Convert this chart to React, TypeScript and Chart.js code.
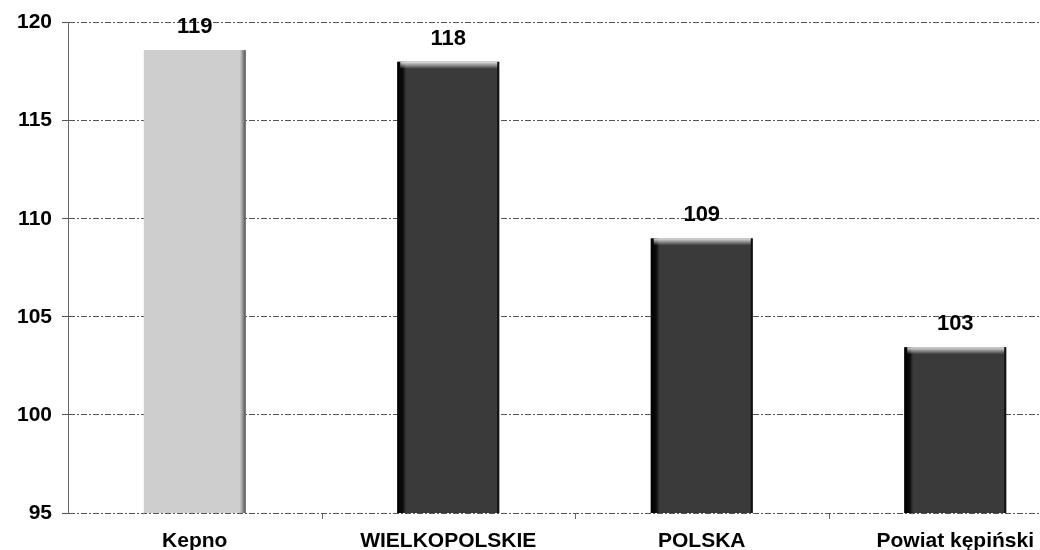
import { useEffect, useRef } from 'react';
import { Chart, registerables } from 'chart.js';

Chart.register(...registerables);

const categories = ['Kepno', 'WIELKOPOLSKIE', 'POLSKA', 'Powiat kępiński'];
const values = [118.6, 118, 109, 103.45];
const valueLabels = ['119', '118', '109', '103'];
const barColors = ['#cecece', '#3a3a3a', '#3a3a3a', '#3a3a3a'];
const yMin = 95;
const yMax = 120;
const yStep = 5;

const FAMILY = "'Liberation Sans', Arial, sans-serif";
const TICK_FONT = { family: FAMILY, size: 21, weight: 'bold' };
const DASH = [6, 2, 2, 2];

const decorPlugin = {
  id: 'decor',
  afterDatasetsDraw(chart: any) {
    const ctx = chart.ctx;
    const meta = chart.getDatasetMeta(0);
    const bottom = chart.chartArea.bottom;
    meta.data.forEach((bar: any, i: number) => {
      const { x, y, base, width } = bar.getProps(['x', 'y', 'base', 'width'], true);
      const left = x - width / 2;
      const right = x + width / 2;
      const h = Math.min(base, bottom) - y;
      ctx.save();
      if (i === 0) {
        const g = ctx.createLinearGradient(right - 6, 0, right, 0);
        g.addColorStop(0, 'rgba(90,90,90,0)');
        g.addColorStop(1, 'rgba(60,60,60,0.9)');
        ctx.fillStyle = g;
        ctx.fillRect(right - 6, y, 6, h);
      } else {
        const g = ctx.createLinearGradient(left, 0, left + 9, 0);
        g.addColorStop(0, 'rgba(0,0,0,1)');
        g.addColorStop(0.6, 'rgba(0,0,0,0.8)');
        g.addColorStop(1, 'rgba(0,0,0,0)');
        ctx.fillStyle = g;
        ctx.fillRect(left, y, 9, h);
        ctx.fillStyle = '#111';
        ctx.fillRect(right - 2, y, 2, h);
        const t = ctx.createLinearGradient(0, y, 0, y + 7);
        t.addColorStop(0, 'rgba(235,235,235,0.95)');
        t.addColorStop(1, 'rgba(235,235,235,0)');
        ctx.fillStyle = t;
        ctx.fillRect(left + 3, y, width - 5, 7);
      }
      ctx.restore();
    });
    // small category-boundary ticks on the x axis
    const xs = chart.scales.x;
    ctx.save();
    ctx.strokeStyle = '#666';
    ctx.lineWidth = 1;
    for (let i = 0; i < categories.length - 1; i++) {
      const bx = Math.round((xs.getPixelForValue(i) + xs.getPixelForValue(i + 1)) / 2) + 0.5;
      ctx.beginPath();
      ctx.moveTo(bx, bottom);
      ctx.lineTo(bx, bottom + 6);
      ctx.stroke();
    }
    ctx.restore();
  },
};

const labelPlugin = {
  id: 'valueLabels',
  afterDatasetsDraw(chart: any) {
    const ctx = chart.ctx;
    const meta = chart.getDatasetMeta(0);
    ctx.save();
    ctx.font = `bold 22px ${FAMILY}`;
    ctx.fillStyle = '#000';
    ctx.textAlign = 'center';
    ctx.textBaseline = 'middle';
    meta.data.forEach((bar: any, i: number) => {
      ctx.fillText(valueLabels[i], bar.x, bar.y - 23);
    });
    ctx.restore();
  },
};

export default function App() {
  const ref = useRef<HTMLCanvasElement>(null);
  useEffect(() => {
    const chart = new Chart(ref.current as HTMLCanvasElement, {
      type: 'bar',
      data: {
        labels: categories,
        datasets: [
          {
            data: values,
            backgroundColor: barColors,
            borderWidth: 0,
            barPercentage: 1,
            categoryPercentage: 0.402,
          },
        ],
      },
      options: {
        responsive: false,
        animation: false,
        layout: { padding: { top: 20, right: 18, left: 0, bottom: 0 } },
        plugins: { legend: { display: false }, tooltip: { enabled: false } },
        scales: {
          x: {
            grid: { display: false },
            border: { display: false },
            ticks: { font: TICK_FONT, color: '#000', padding: 8, maxRotation: 0, autoSkip: false },
            afterFit: (s: any) => {
              s.height = 37;
            },
          },
          y: {
            min: yMin,
            max: yMax,
            ticks: { stepSize: yStep, font: TICK_FONT, color: '#000', padding: 10 },
            grid: { color: '#555', tickLength: 6, lineWidth: 1 },
            border: { display: true, color: '#666', dash: DASH },
            afterFit: (s: any) => {
              s.width = 68;
            },
          },
        },
      } as any,
      plugins: [decorPlugin, labelPlugin],
    });
    return () => chart.destroy();
  }, []);
  return (
    <div
      style={{
        position: 'absolute',
        left: 0,
        top: 0,
        width: 1040,
        height: 550,
        overflow: 'hidden',
        background: '#fff',
      }}
    >
      <canvas ref={ref} width={1100} height={550} style={{ display: 'block' }} />
    </div>
  );
}
